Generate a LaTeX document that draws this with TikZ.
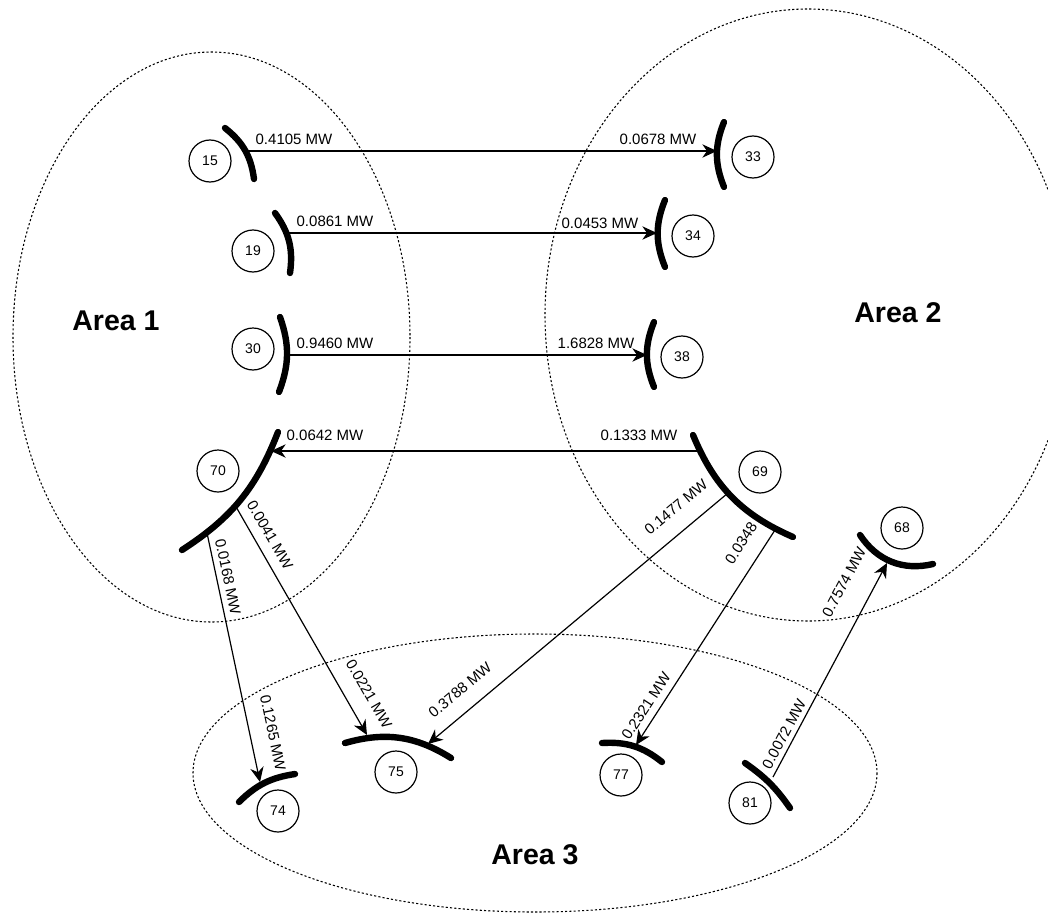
\documentclass[tikz,border=0pt]{standalone}
\usepackage{fontspec}
\setmainfont{Liberation Sans}
\usetikzlibrary{arrows.meta}
\begin{document}
\begin{tikzpicture}[x=0.75pt,y=-0.75pt,
  area/.style={draw, line width=0.8pt, dash pattern=on 1.6pt off 1.6pt},
  bus/.style={line width=4.8pt, line cap=round},
  busno/.style={circle, draw, line width=0.9pt, minimum size=31.5pt, inner sep=0pt, font=\fontsize{10.5}{12}\selectfont},
  flow/.style={line width=0.9pt, -{Stealth[length=11pt,width=10pt,inset=3.5pt]}},
  flowlbl/.style={font=\fontsize{11.25}{13}\selectfont, inner sep=0pt},
  arealbl/.style={font=\fontsize{21.4}{24}\selectfont\bfseries, inner sep=0pt}]
\useasboundingbox (0,0) rectangle (1048,920);

% areas
\begin{scope}
\clip (0,0) rectangle (1048,920);
\draw[area] (211.5,337) ellipse [x radius=198.5, y radius=285];
\draw[area] (808,315) ellipse [x radius=263, y radius=306];
\draw[area] (535,773) ellipse [x radius=342, y radius=139];
\end{scope}
\node[arealbl] (a1) at (116,321) {Area 1};
\node[arealbl] (a2) at (898,313) {Area 2};
\node[arealbl] (a3) at (535,855) {Area 3};

% bus circles
\node[busno] (n15) at (210,161) {15};
\node[busno] (n19) at (253,251) {19};
\node[busno] (n30) at (253,349) {30};
\node[busno] (n70) at (218,471) {70};
\node[busno] (n33) at (753,157) {33};
\node[busno] (n34) at (693,236) {34};
\node[busno] (n38) at (682,357) {38};
\node[busno] (n69) at (760,472) {69};
\node[busno] (n68) at (902,528) {68};
\node[busno] (n74) at (278,811) {74};
\node[busno] (n75) at (396,772) {75};
\node[busno] (n77) at (621,775) {77};
\node[busno] (n81) at (750,803) {81};

% bus bars
\draw[bus] (225,128) to[bend left=22] (254,179);
\draw[bus] (275,213) to[bend left=22] (290,273);
\draw[bus] (280,317) to[bend left=20] (279,392);
\draw[bus] (724,122) to[bend right=22] (724,187);
\draw[bus] (665,200) to[bend right=22] (665,267);
\draw[bus] (654,322) to[bend right=22] (654,387);
\draw[bus] (278,432) to[bend left=18] (182,550);
\draw[bus] (693,435) to[bend right=22] (793,537);
\draw[bus] (860,535) to[bend right=35] (933,564);
\draw[bus] (345,743) to[bend left=24] (451,758);
\draw[bus] (239,802) to[bend left=18] (295,774);
\draw[bus] (602,743) to[bend left=21] (662,762);
\draw[bus] (745,763) to[bend left=10] (790,808);

% connection points on the bars
\coordinate (b15) at (247,151);
\coordinate (b33) at (717,151);
\coordinate (b19) at (289,233);
\coordinate (b34) at (657,233);
\coordinate (b30) at (288,355);
\coordinate (b38) at (647,355);
\coordinate (b69a) at (701,451);
\coordinate (b70a) at (271,451);
\coordinate (b70b) at (235,505);
\coordinate (b70c) at (207,533);
\coordinate (b69b) at (728,493);
\coordinate (b69c) at (775,530);
\coordinate (b75a) at (367,735);
\coordinate (b75b) at (428,744);
\coordinate (b74) at (260,782);
\coordinate (b77) at (636,745);
\coordinate (b81) at (773,777);
\coordinate (b68) at (887,563);

% flows
\draw[flow] (b15) -- (b33);
\draw[flow] (b19) -- (b34);
\draw[flow] (b30) -- (b38);
\draw[flow] (b69a) -- (b70a);
\draw[flow] (b70c) -- (b74);
\draw[flow] (b70b) -- (b75a);
\draw[flow] (b69b) -- (b75b);
\draw[flow] (b69c) -- (b77);
\draw[flow] (b81) -- (b68);

% flow labels
\node[flowlbl] (l1) at (294,139) {0.4105 MW};
\node[flowlbl] (l2) at (658,139) {0.0678 MW};
\node[flowlbl] (l3) at (335,221) {0.0861 MW};
\node[flowlbl] (l4) at (600,223) {0.0453 MW};
\node[flowlbl] (l5) at (335,343) {0.9460 MW};
\node[flowlbl] (l6) at (596,343) {1.6828 MW};
\node[flowlbl] (l7) at (325,435) {0.0642 MW};
\node[flowlbl] (l8) at (639,435) {0.1333 MW};
\node[flowlbl, rotate=-60] (l9) at (270,535) {0.0041 MW};
\node[flowlbl, rotate=-60] (l10) at (369,694) {0.0221 MW};
\node[flowlbl, rotate=-78] (l11) at (228,577) {0.0168 MW};
\node[flowlbl, rotate=-78] (l12) at (273,733) {0.1265 MW};
\node[flowlbl, rotate=40] (l13) at (676,507) {0.1477 MW};
\node[flowlbl, rotate=40] (l14) at (460,690) {0.3788 MW};
\node[flowlbl, rotate=57] (l15) at (741,543) {0.0348};
\node[flowlbl, rotate=57] (l16) at (646,706) {0.2321 MW};
\node[flowlbl, rotate=62] (l17) at (844,582) {0.7574 MW};
\node[flowlbl, rotate=62] (l18) at (784,734) {0.0072 MW};
\end{tikzpicture}
\end{document}
